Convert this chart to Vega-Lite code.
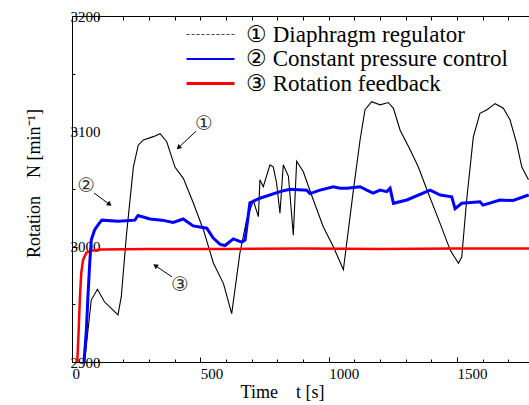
{
  "$schema": "https://vega.github.io/schema/vega-lite/v6.json",
  "width": 457,
  "height": 346,
  "autosize": {"type": "none"},
  "padding": {"left": 72, "top": 16, "right": 0, "bottom": 43},
  "background": "white",
  "config": {
    "view": {"stroke": null},
    "font": "Liberation Serif",
    "axis": {
      "labelFont": "Liberation Serif",
      "titleFont": "Liberation Serif",
      "labelColor": "black",
      "titleColor": "black",
      "domainColor": "black",
      "tickColor": "black",
      "grid": false,
      "titleFontWeight": "normal",
      "labelFontSize": 15,
      "titleFontSize": 18,
      "domainWidth": 1,
      "tickWidth": 1
    },
    "legend": {"labelFont": "Liberation Serif"}
  },
  "datasets": {
    "lines": [
      {"series": "① Diaphragm regulator", "t": 49, "N": 2900},
      {"series": "① Diaphragm regulator", "t": 75, "N": 2953.7},
      {"series": "① Diaphragm regulator", "t": 99, "N": 2963},
      {"series": "① Diaphragm regulator", "t": 127, "N": 2952},
      {"series": "① Diaphragm regulator", "t": 153, "N": 2946.5},
      {"series": "① Diaphragm regulator", "t": 179, "N": 2940.8},
      {"series": "① Diaphragm regulator", "t": 192, "N": 2956.6},
      {"series": "① Diaphragm regulator", "t": 212, "N": 3010},
      {"series": "① Diaphragm regulator", "t": 239, "N": 3069},
      {"series": "① Diaphragm regulator", "t": 258, "N": 3088},
      {"series": "① Diaphragm regulator", "t": 278, "N": 3092.5},
      {"series": "① Diaphragm regulator", "t": 317, "N": 3095.4},
      {"series": "① Diaphragm regulator", "t": 343, "N": 3098},
      {"series": "① Diaphragm regulator", "t": 369, "N": 3091},
      {"series": "① Diaphragm regulator", "t": 401, "N": 3069},
      {"series": "① Diaphragm regulator", "t": 434, "N": 3059},
      {"series": "① Diaphragm regulator", "t": 473, "N": 3037.6},
      {"series": "① Diaphragm regulator", "t": 512, "N": 3014.5},
      {"series": "① Diaphragm regulator", "t": 551, "N": 2985.6},
      {"series": "① Diaphragm regulator", "t": 590, "N": 2968},
      {"series": "① Diaphragm regulator", "t": 622, "N": 2942},
      {"series": "① Diaphragm regulator", "t": 654, "N": 2994.5},
      {"series": "① Diaphragm regulator", "t": 680, "N": 3023},
      {"series": "① Diaphragm regulator", "t": 706, "N": 3040},
      {"series": "① Diaphragm regulator", "t": 726, "N": 3026},
      {"series": "① Diaphragm regulator", "t": 732, "N": 3058},
      {"series": "① Diaphragm regulator", "t": 745, "N": 3052},
      {"series": "① Diaphragm regulator", "t": 771, "N": 3071},
      {"series": "① Diaphragm regulator", "t": 784, "N": 3069},
      {"series": "① Diaphragm regulator", "t": 797, "N": 3055},
      {"series": "① Diaphragm regulator", "t": 810, "N": 3029},
      {"series": "① Diaphragm regulator", "t": 823, "N": 3071},
      {"series": "① Diaphragm regulator", "t": 843, "N": 3061},
      {"series": "① Diaphragm regulator", "t": 862, "N": 3010},
      {"series": "① Diaphragm regulator", "t": 875, "N": 3074},
      {"series": "① Diaphragm regulator", "t": 901, "N": 3065},
      {"series": "① Diaphragm regulator", "t": 940, "N": 3040.5},
      {"series": "① Diaphragm regulator", "t": 979, "N": 3017},
      {"series": "① Diaphragm regulator", "t": 1018, "N": 3000},
      {"series": "① Diaphragm regulator", "t": 1057, "N": 2980},
      {"series": "① Diaphragm regulator", "t": 1096, "N": 3049},
      {"series": "① Diaphragm regulator", "t": 1122, "N": 3092.5},
      {"series": "① Diaphragm regulator", "t": 1141, "N": 3118.5},
      {"series": "① Diaphragm regulator", "t": 1167, "N": 3125.7},
      {"series": "① Diaphragm regulator", "t": 1200, "N": 3123},
      {"series": "① Diaphragm regulator", "t": 1232, "N": 3125},
      {"series": "① Diaphragm regulator", "t": 1252, "N": 3120},
      {"series": "① Diaphragm regulator", "t": 1278, "N": 3101},
      {"series": "① Diaphragm regulator", "t": 1317, "N": 3084},
      {"series": "① Diaphragm regulator", "t": 1349, "N": 3069},
      {"series": "① Diaphragm regulator", "t": 1378, "N": 3052},
      {"series": "① Diaphragm regulator", "t": 1434, "N": 3020},
      {"series": "① Diaphragm regulator", "t": 1473, "N": 2997},
      {"series": "① Diaphragm regulator", "t": 1505, "N": 2985.6},
      {"series": "① Diaphragm regulator", "t": 1518, "N": 2991},
      {"series": "① Diaphragm regulator", "t": 1537, "N": 3040},
      {"series": "① Diaphragm regulator", "t": 1563, "N": 3095},
      {"series": "① Diaphragm regulator", "t": 1589, "N": 3115.6},
      {"series": "① Diaphragm regulator", "t": 1615, "N": 3118.5},
      {"series": "① Diaphragm regulator", "t": 1648, "N": 3124},
      {"series": "① Diaphragm regulator", "t": 1680, "N": 3120},
      {"series": "① Diaphragm regulator", "t": 1706, "N": 3110},
      {"series": "① Diaphragm regulator", "t": 1732, "N": 3089.6},
      {"series": "① Diaphragm regulator", "t": 1752, "N": 3069},
      {"series": "① Diaphragm regulator", "t": 1778, "N": 3058},
      {"series": "② Constant pressure control", "t": 46.7, "N": 2900},
      {"series": "② Constant pressure control", "t": 56, "N": 2927.7},
      {"series": "② Constant pressure control", "t": 62, "N": 2956.6},
      {"series": "② Constant pressure control", "t": 69, "N": 2985.6},
      {"series": "② Constant pressure control", "t": 75, "N": 3005.8},
      {"series": "② Constant pressure control", "t": 88, "N": 3014.5},
      {"series": "② Constant pressure control", "t": 105, "N": 3020},
      {"series": "② Constant pressure control", "t": 116, "N": 3023},
      {"series": "② Constant pressure control", "t": 180, "N": 3022},
      {"series": "② Constant pressure control", "t": 245, "N": 3023},
      {"series": "② Constant pressure control", "t": 257, "N": 3027},
      {"series": "② Constant pressure control", "t": 304, "N": 3024},
      {"series": "② Constant pressure control", "t": 350, "N": 3023},
      {"series": "② Constant pressure control", "t": 394, "N": 3021},
      {"series": "② Constant pressure control", "t": 433, "N": 3024},
      {"series": "② Constant pressure control", "t": 472, "N": 3018},
      {"series": "② Constant pressure control", "t": 525, "N": 3016},
      {"series": "② Constant pressure control", "t": 550, "N": 3007.5},
      {"series": "② Constant pressure control", "t": 577, "N": 3002},
      {"series": "② Constant pressure control", "t": 596, "N": 3001},
      {"series": "② Constant pressure control", "t": 628, "N": 3006.7},
      {"series": "② Constant pressure control", "t": 661, "N": 3004},
      {"series": "② Constant pressure control", "t": 674, "N": 3005.8},
      {"series": "② Constant pressure control", "t": 693, "N": 3038},
      {"series": "② Constant pressure control", "t": 732, "N": 3042},
      {"series": "② Constant pressure control", "t": 810, "N": 3047.7},
      {"series": "② Constant pressure control", "t": 849, "N": 3049.7},
      {"series": "② Constant pressure control", "t": 914, "N": 3049},
      {"series": "② Constant pressure control", "t": 927, "N": 3046},
      {"series": "② Constant pressure control", "t": 966, "N": 3049},
      {"series": "② Constant pressure control", "t": 1018, "N": 3052},
      {"series": "② Constant pressure control", "t": 1044, "N": 3050.6},
      {"series": "② Constant pressure control", "t": 1070, "N": 3050.6},
      {"series": "② Constant pressure control", "t": 1122, "N": 3052},
      {"series": "② Constant pressure control", "t": 1148, "N": 3049},
      {"series": "② Constant pressure control", "t": 1173, "N": 3046.5},
      {"series": "② Constant pressure control", "t": 1200, "N": 3049},
      {"series": "② Constant pressure control", "t": 1226, "N": 3047.7},
      {"series": "② Constant pressure control", "t": 1239, "N": 3050.6},
      {"series": "② Constant pressure control", "t": 1252, "N": 3037.6},
      {"series": "② Constant pressure control", "t": 1304, "N": 3040.5},
      {"series": "② Constant pressure control", "t": 1395, "N": 3049},
      {"series": "② Constant pressure control", "t": 1434, "N": 3044.8},
      {"series": "② Constant pressure control", "t": 1479, "N": 3043.3},
      {"series": "② Constant pressure control", "t": 1492, "N": 3033},
      {"series": "② Constant pressure control", "t": 1518, "N": 3037.6},
      {"series": "② Constant pressure control", "t": 1589, "N": 3039},
      {"series": "② Constant pressure control", "t": 1601, "N": 3036},
      {"series": "② Constant pressure control", "t": 1667, "N": 3040.5},
      {"series": "② Constant pressure control", "t": 1718, "N": 3040},
      {"series": "② Constant pressure control", "t": 1779, "N": 3044.8},
      {"series": "③ Rotation feedback", "t": 20.6, "N": 2900},
      {"series": "③ Rotation feedback", "t": 26, "N": 2927.7},
      {"series": "③ Rotation feedback", "t": 31, "N": 2956.6},
      {"series": "③ Rotation feedback", "t": 36, "N": 2977},
      {"series": "③ Rotation feedback", "t": 43, "N": 2988.4},
      {"series": "③ Rotation feedback", "t": 56, "N": 2994.8},
      {"series": "③ Rotation feedback", "t": 75, "N": 2996.5},
      {"series": "③ Rotation feedback", "t": 113, "N": 2997.5},
      {"series": "③ Rotation feedback", "t": 300, "N": 2998},
      {"series": "③ Rotation feedback", "t": 600, "N": 2998},
      {"series": "③ Rotation feedback", "t": 900, "N": 2998.5},
      {"series": "③ Rotation feedback", "t": 1200, "N": 2998},
      {"series": "③ Rotation feedback", "t": 1500, "N": 2998.5},
      {"series": "③ Rotation feedback", "t": 1780, "N": 2998.5}
    ],
    "labels": [
      {"id": 1, "text": "①", "t": 514, "N": 3106.4},
      {"id": 2, "text": "②", "t": 55, "N": 3052.6},
      {"id": 3, "text": "③", "t": 421, "N": 2966.8}
    ],
    "arrows": [
      {"id": 1, "t": 483, "N": 3100, "t2": 417, "N2": 3086.4},
      {"id": 2, "t": 86, "N": 3046.5, "t2": 144, "N2": 3037},
      {"id": 3, "t": 390, "N": 2973.7, "t2": 327, "N2": 2983.2}
    ]
  },
  "layer": [
    {
      "data": {"name": "lines"},
      "transform": [{"filter": "datum.series === '① Diaphragm regulator'"}],
      "mark": {"type": "line", "clip": true, "color": "black", "strokeWidth": 1.1},
      "encoding": {
        "x": {
          "field": "t", "type": "quantitative",
          "scale": {"domain": [0, 1780], "nice": false, "zero": false},
          "axis": {
            "orient": "bottom",
            "values": [0, 500, 1000, 1500],
            "format": "d",
            "tickSize": -5,
            "labelAlign": "left",
            "labelBaseline": "top",
            "labelPadding": 9,
            "title": "Time\u00a0\u00a0\u00a0\u00a0t [s]",
            "titleX": 210,
            "titleY": 30,
            "titleAlign": "center",
            "titleBaseline": "middle"
          }
        },
        "y": {
          "field": "N", "type": "quantitative",
          "scale": {"domain": [2900, 3200], "nice": false, "zero": false},
          "axis": {
            "orient": "left",
            "values": [2900, 3000, 3100, 3200],
            "format": "d",
            "tickSize": -5,
            "labelAlign": "left",
            "labelBaseline": "middle",
            "labelPadding": 7,
            "title": "Rotation\u00a0\u00a0\u00a0\u00a0N [min⁻¹]",
            "titleX": -38,
            "titleY": 167,
            "titleAngle": 270,
            "titleAlign": "center",
            "titleBaseline": "middle"
          }
        }
      }
    },
    {
      "data": {"name": "lines"},
      "transform": [{"filter": "datum.series === '③ Rotation feedback'"}],
      "mark": {"type": "line", "clip": true, "color": "#ff0000", "strokeWidth": 2.5},
      "encoding": {
        "x": {"field": "t", "type": "quantitative", "axis": null},
        "y": {"field": "N", "type": "quantitative", "axis": null}
      }
    },
    {
      "data": {"name": "lines"},
      "transform": [{"filter": "datum.series === '② Constant pressure control'"}],
      "mark": {"type": "line", "clip": true, "color": "#0000ff", "strokeWidth": 3},
      "encoding": {
        "x": {"field": "t", "type": "quantitative", "axis": null},
        "y": {"field": "N", "type": "quantitative", "axis": null}
      }
    },
    {
      "data": {"name": "lines"},
      "transform": [{"filter": "datum.t < 0"}],
      "mark": {"type": "line"},
      "encoding": {
        "x": {"field": "t", "type": "quantitative", "axis": null},
        "y": {"field": "N", "type": "quantitative", "axis": null},
        "color": {
          "field": "series", "type": "nominal",
          "scale": {
            "domain": ["① Diaphragm regulator", "② Constant pressure control", "③ Rotation feedback"],
            "range": ["#444444", "#0000ff", "#ff0000"]
          },
          "legend": {
            "orient": "none", "legendX": 127, "legendY": 7, "title": null,
            "symbolType": "M-8,0H8", "symbolSize": 36, "symbolOpacity": 1,
            "labelFont": "Liberation Serif", "labelFontSize": 23, "labelColor": "black",
            "labelOffset": 24, "labelLimit": 0, "rowPadding": 0.5
          }
        },
        "strokeWidth": {
          "field": "series", "type": "nominal",
          "scale": {
            "domain": ["① Diaphragm regulator", "② Constant pressure control", "③ Rotation feedback"],
            "range": [1, 3, 1.3]
          },
          "legend": {
            "orient": "none", "legendX": 127, "legendY": 7, "title": null,
            "symbolType": "M-8,0H8", "symbolSize": 36, "symbolOpacity": 1,
            "labelFont": "Liberation Serif", "labelFontSize": 23, "labelColor": "black",
            "labelOffset": 24, "labelLimit": 0, "rowPadding": 0.5
          }
        },
        "strokeDash": {
          "field": "series", "type": "nominal",
          "scale": {
            "domain": ["① Diaphragm regulator", "② Constant pressure control", "③ Rotation feedback"],
            "range": [[3, 2], [1, 0], [1, 0]]
          },
          "legend": {
            "orient": "none", "legendX": 127, "legendY": 7, "title": null,
            "symbolType": "M-8,0H8", "symbolSize": 36, "symbolOpacity": 1,
            "labelFont": "Liberation Serif", "labelFontSize": 23, "labelColor": "black",
            "labelOffset": 24, "labelLimit": 0, "rowPadding": 0.5
          }
        }
      }
    },
    {
      "data": {"name": "labels"},
      "mark": {"type": "text", "fontSize": 20, "color": "#333333", "font": "DejaVu Sans", "baseline": "middle", "align": "center"},
      "encoding": {
        "x": {
          "field": "t", "type": "quantitative",
          "axis": {"orient": "bottom", "values": [100, 200, 300, 400, 600, 700, 800, 900, 1100, 1200, 1300, 1400, 1600, 1700], "tickSize": -3, "labels": false, "domain": false, "title": null}
        },
        "y": {
          "field": "N", "type": "quantitative",
          "axis": {"orient": "left", "values": [2950, 3050, 3150], "tickSize": -3, "labels": false, "domain": false, "title": null}
        },
        "text": {"field": "text"}
      }
    },
    {
      "data": {"name": "arrows"},
      "mark": {"type": "rule", "color": "black", "strokeWidth": 1},
      "encoding": {
        "x": {
          "field": "t", "type": "quantitative",
          "axis": {"orient": "top", "values": [100, 200, 300, 400, 500, 600, 700, 800, 900, 1000, 1100, 1200, 1300, 1400, 1500, 1600, 1700], "tickSize": -4, "labels": false, "domain": true, "title": null}
        },
        "y": {"field": "N", "type": "quantitative", "axis": null},
        "x2": {"field": "t2"},
        "y2": {"field": "N2"}
      }
    },
    {
      "data": {"name": "arrows"},
      "transform": [{"filter": "datum.id === 1"}],
      "mark": {"type": "point", "shape": "triangle", "filled": true, "color": "black", "size": 30, "angle": 227, "opacity": 1},
      "encoding": {
        "x": {"field": "t2", "type": "quantitative", "axis": null},
        "y": {"field": "N2", "type": "quantitative", "axis": null}
      }
    },
    {
      "data": {"name": "arrows"},
      "transform": [{"filter": "datum.id === 2"}],
      "mark": {"type": "point", "shape": "triangle", "filled": true, "color": "black", "size": 30, "angle": 126, "opacity": 1},
      "encoding": {
        "x": {"field": "t2", "type": "quantitative", "axis": null},
        "y": {"field": "N2", "type": "quantitative", "axis": null}
      }
    },
    {
      "data": {"name": "arrows"},
      "transform": [{"filter": "datum.id === 3"}],
      "mark": {"type": "point", "shape": "triangle", "filled": true, "color": "black", "size": 30, "angle": 305, "opacity": 1},
      "encoding": {
        "x": {"field": "t2", "type": "quantitative", "axis": null},
        "y": {"field": "N2", "type": "quantitative", "axis": null}
      }
    }
  ],
  "resolve": {"axis": {"x": "independent", "y": "independent"}}
}
